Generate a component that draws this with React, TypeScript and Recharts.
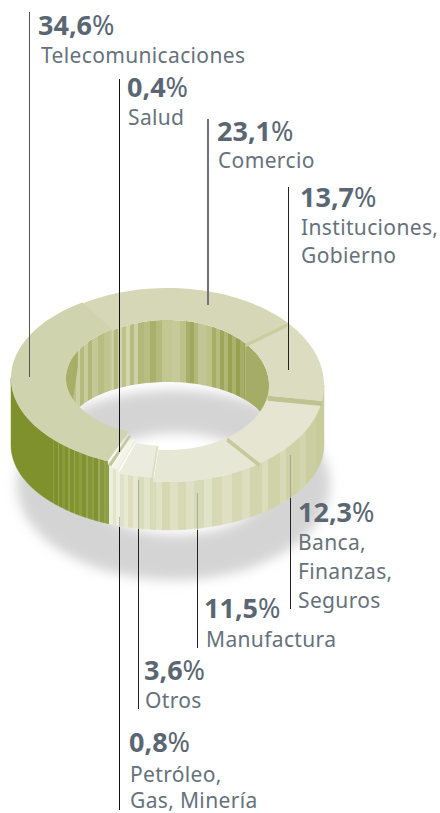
import { Pie, PieChart } from 'recharts'

// clockwise from the top-left seam, Telecomunicaciones is painted last
const sectors = ['Comercio', 'Instituciones,|Gobierno', 'Banca,|Finanzas,|Seguros', 'Manufactura', 'Otros', 'Petróleo,|Gas, Minería', 'Salud', 'Telecomunicaciones']
const shares = [23.1, 13.7, 12.3, 11.5, 3.6, 0.8, 0.4, 34.6]
const data = sectors.map((name, i) => ({ name, share: shares[i] }))

const CX = 167.5
const OUTER_RX = 156.5
const INNER_RX = 101.5

// top face of each slice: the pieces sit at slightly different heights
const topCy = [385, 385, 385, 385, 383, 381, 380, 378]
const topOuterRy = [97, 97, 97, 97, 95, 93, 92, 90]
const topInnerRy = [65, 65, 65, 65, 63, 62, 60, 58]
const topFill = ['#d6d7b7', '#dcdcc1', '#e5e5d2', '#e6e7d5', '#ebecde', '#f4f5ea', '#c3c895', '#d0d4ae']
const stepFill = ['none', '#c9cda2', '#bec391', '#c6ca9b', '#dcdfc4', '#e2e4cd', 'none', 'none']
const stepX = [0, 0, 0, -1, -2, -2, 0, 0]
const stepY = [0, 4, 5, 4, 1, 2, 0, 0]

const BOTTOM_CY = 445
const BOTTOM_RY = 85
const HOLE_CY = 432
const HOLE_RY = 50

// [x where the stripe starts, colour]
const outerStripes: [number, string][] = [
  [11, '#7e912c'], [53, '#8f9f48'], [54, '#7e912c'], [58, '#98a656'], [59, '#7e912c'], [62, '#8a9a3e'], [65, '#7e912c'],
  [68, '#94a34f'], [70, '#80932f'], [74, '#9aa85c'], [75, '#82952f'], [79, '#8e9e44'], [82, '#7f922d'], [86, '#96a552'],
  [88, '#84963a'], [92, '#8f9f48'], [94, '#80932f'], [98, '#9dab60'], [100, '#87993c'], [104, '#93a24c'], [106, '#8a9b40'],
  [109, '#eceedd'], [113, '#e3e5cb'], [116, '#eef0df'], [120, '#dfe2c6'], [124, '#e8eacf'], [128, '#dcdebf'], [133, '#e6e8d0'],
  [138, '#d9dcba'], [144, '#e3e5ca'], [150, '#d8dab7'], [156, '#e0e2c6'], [162, '#d5d8b2'], [170, '#dee0c2'], [178, '#d6d9b4'],
  [186, '#dfe1c5'], [194, '#d7dab6'], [204, '#e1e3c9'], [212, '#d6d9b4'], [222, '#dee0c3'], [232, '#d5d8b1'], [242, '#dcdebf'],
  [250, '#d3d6ad'], [262, '#dbddbc'], [268, '#d0d3a8'], [280, '#d8dab7'], [286, '#cfd2a6'], [300, '#d3d6ac'], [306, '#cbcea0'],
  [316, '#c8cc9b'], [324, '#c8cc9b'],
]
const innerStripes: [number, string][] = [
  [66, '#c6ca98'], [72, '#bcc288'], [76, '#cbcfa2'], [80, '#b5bb7e'], [84, '#c8cc9c'], [88, '#b2b87a'], [92, '#c4c896'], [98, '#b8bd82'], [104, '#c0c590'],
  [110, '#c6ca9a'], [114, '#b4ba7c'], [118, '#d0d3ab'], [122, '#bcc288'], [126, '#d2d5ae'], [130, '#b6bc80'], [134, '#cdd0a6'], [138, '#b2b87a'],
  [144, '#b8bd82'], [150, '#a9b06c'], [156, '#b4ba7c'], [162, '#c2c794'], [172, '#c6ca9a'], [180, '#bcc188'], [186, '#a8af6a'], [190, '#a0a85e'],
  [194, '#b2b87a'], [198, '#c2c694'], [206, '#bdc28a'], [212, '#a7ae68'], [216, '#b6bc80'], [220, '#9ea65a'], [224, '#b0b676'], [228, '#98a250'],
  [232, '#abb26e'], [236, '#96a04e'], [240, '#a6ad68'], [244, '#9aa354'], [246, '#a5ac66'], [269, '#a5ac66'],
]

// one entry per sector in the same order as above
const textX = [217, 300, 298, 204, 144, 129, 127, 38]
const valueY = [141, 207, 522, 618, 680, 752, 97, 35]
const nameX = [218, 301, 298, 206, 145, 130, 128, 41]
const nameY = [168, 235, 550, 647, 708, 782, 125, 63]
const nameGap = [0, 28, 29, 0, 0, 26, 0, 0]
const leaderX = [208, 288.5, 290.5, 197.5, 138.5, 119.5, 119.5, 29.5]
const leaderTop = [119, 187, 497, 530, 528, 527, 79, 12]
const leaderEnd = [305, 370, 609, 648, 709, 810, 452, 377]
const leaderFaintTop = [0, 0, 455, 493, 480, 517, 0, 0]
const leaderColor = ['#707478', '#222', '#222', '#222', '#222', '#111', '#111', '#555']
const leaderWidth = [2, 1, 1, 1, 1, 1, 1, 1]
const leaderUnder = [false, false, true, true, true, true, false, false]

const TEXT_DARK = '#5a6772'
const TEXT_FONT = '"Noto Sans", sans-serif'

const at = (t: number, cy: number, rx: number, ry: number) => {
  const r = (t * Math.PI) / 180
  return [CX + rx * Math.cos(r), cy - ry * Math.sin(r)]
}

// sampled arc from angle a to angle b
const arc = (a: number, b: number, cy: number, rx: number, ry: number) => {
  const n = Math.max(2, Math.ceil(Math.abs(a - b) / 2))
  const pts: number[][] = []
  for (let i = 0; i <= n; i++) pts.push(at(a + ((b - a) * i) / n, cy, rx, ry))
  return pts
}

const toPath = (pts: number[][]) => 'M' + pts.map((p) => `${p[0].toFixed(2)} ${p[1].toFixed(2)}`).join('L') + 'Z'

const clamp = (from: number, to: number, hi: number, lo: number) => {
  const a = Math.min(from, hi)
  const b = Math.max(to, lo)
  return a > b ? [a, b] : null
}

function stripeStops(stripes: [number, string][]) {
  const x0 = stripes[0][0]
  const span = stripes[stripes.length - 1][0] - x0
  const stops = []
  for (let i = 0; i < stripes.length - 1; i++) {
    stops.push(<stop key={`${i}a`} offset={(stripes[i][0] - x0) / span} stopColor={stripes[i][1]} />)
    stops.push(<stop key={`${i}b`} offset={(stripes[i + 1][0] - x0) / span} stopColor={stripes[i][1]} />)
  }
  return stops
}

function ShadowLayer({ index }: any) {
  if (index !== 0) return <g />
  const outer = toPath(arc(0, 360, 485, 156.5, 95).map((p) => [p[0] + 6, p[1]]))
  const inner = toPath(arc(0, 360, 484, 92, 51).map((p) => [p[0] + 9, p[1]]))
  return <path d={outer + inner} fillRule="evenodd" fill="#d4d4d4" filter="url(#soft)" />
}

function LeaderUnderLayer({ index }: any) {
  if (!leaderUnder[index]) return <g />
  return <line x1={leaderX[index]} x2={leaderX[index]} y1={leaderTop[index]} y2={leaderEnd[index]} stroke={leaderColor[index]} strokeWidth={1} />
}

function InnerWallLayer({ index, startAngle, endAngle }: any) {
  const parts = [clamp(startAngle, endAngle, 180, 0), clamp(startAngle, endAngle, -180, -360)].filter(Boolean) as number[][]
  return (
    <g>
      {parts.map(([a, b], k) => {
        const top = arc(a, b, topCy[index], INNER_RX, topInnerRy[index])
        const bottom = arc(b, a, HOLE_CY, INNER_RX, HOLE_RY)
        // the dark cut at the seam behind Telecomunicaciones
        const cutTop = arc(a, a - 28, topCy[index], INNER_RX, topInnerRy[index])
        const isLast = index === sectors.length - 1
        return (
          <g key={k}>
            <path d={toPath([...top, ...bottom])} fill="url(#innerWall)" />
            {isLast && (
              <path
                d={toPath([...cutTop, [cutTop[cutTop.length - 1][0], cutTop[cutTop.length - 1][1] + 16], [cutTop[0][0], cutTop[0][1] + 68]])}
                fill="#a7ae68"
              />
            )}
          </g>
        )
      })}
    </g>
  )
}

function OuterWallLayer({ index, startAngle, endAngle }: any) {
  const part = clamp(startAngle, endAngle, 0, -180)
  if (!part) return <g />
  const top = arc(part[0], part[1], topCy[index], OUTER_RX, topOuterRy[index])
  const bottom = arc(part[1], part[0], BOTTOM_CY, OUTER_RX, BOTTOM_RY)
  return <path d={toPath([...top, ...bottom])} fill="url(#outerWall)" stroke="url(#outerWall)" strokeWidth={0.5} />
}

function TopLayer({ index, startAngle, endAngle }: any) {
  const cy = topCy[index]
  const o = arc(startAngle, endAngle, cy, OUTER_RX, topOuterRy[index])
  const i = arc(endAngle, startAngle, cy, INNER_RX, topInnerRy[index])
  const a = at(startAngle, cy, OUTER_RX, topOuterRy[index])
  const b = at(startAngle, cy, INNER_RX, topInnerRy[index])
  const sx = stepX[index]
  const sy = stepY[index]
  return (
    <g>
      <path d={toPath([...o, ...i])} fill={topFill[index]} />
      {stepFill[index] !== 'none' && (
        <path d={toPath([a, b, [b[0] + sx, b[1] + sy], [a[0] + sx, a[1] + sy]])} fill={stepFill[index]} />
      )}
    </g>
  )
}

function LabelLayer({ index, name, share }: any) {
  const label = (name ?? sectors[index]) as string
  const value = (share ?? shares[index]).toFixed(1).replace('.', ',')
  return (
    <g fontFamily={TEXT_FONT}>
      {!leaderUnder[index] && (
        <line x1={leaderX[index]} x2={leaderX[index]} y1={leaderTop[index]} y2={leaderEnd[index]} stroke={leaderColor[index]} strokeWidth={leaderWidth[index]} />
      )}
      {leaderUnder[index] && (
        <line x1={leaderX[index]} x2={leaderX[index]} y1={leaderFaintTop[index]} y2={leaderTop[index]} stroke="#555" strokeOpacity={0.35} strokeWidth={1} />
      )}
      <text x={textX[index]} y={valueY[index]} fontSize={27} fontWeight={700} fill={TEXT_DARK}>
        {value}
        <tspan fontWeight={400}>%</tspan>
      </text>
      {label.split('|').map((line, k) => (
        <text key={k} x={nameX[index]} y={nameY[index] + k * nameGap[index]} fontSize={21} letterSpacing={0.35} fill="#66727b">
          {line}
        </text>
      ))}
    </g>
  )
}

const layers = [ShadowLayer, LeaderUnderLayer, InnerWallLayer, OuterWallLayer, TopLayer, LabelLayer]

export default function App() {
  return (
    <div style={{ position: 'absolute', left: 0, top: 0, width: 440, height: 813, background: '#fff' }}>
      <PieChart width={440} height={813} margin={{ top: 0, right: 0, bottom: 0, left: 0 }}>
        <defs>
          <linearGradient id="outerWall" gradientUnits="userSpaceOnUse" x1={11} x2={324} y1={0} y2={0}>
            {stripeStops(outerStripes)}
          </linearGradient>
          <linearGradient id="innerWall" gradientUnits="userSpaceOnUse" x1={66} x2={269} y1={0} y2={0}>
            {stripeStops(innerStripes)}
          </linearGradient>
          <filter id="soft" x="-20%" y="-30%" width="140%" height="160%">
            <feGaussianBlur stdDeviation={6} />
          </filter>
        </defs>
        {layers.map((Layer, i) => (
          <Pie
            key={i}
            data={data}
            dataKey="share"
            nameKey="name"
            cx={CX}
            cy={385}
            innerRadius={INNER_RX}
            outerRadius={OUTER_RX}
            startAngle={123}
            endAngle={-237}
            stroke="none"
            isAnimationActive={false}
            shape={(props: any) => <Layer {...props} />}
          />
        ))}
      </PieChart>
    </div>
  )
}
